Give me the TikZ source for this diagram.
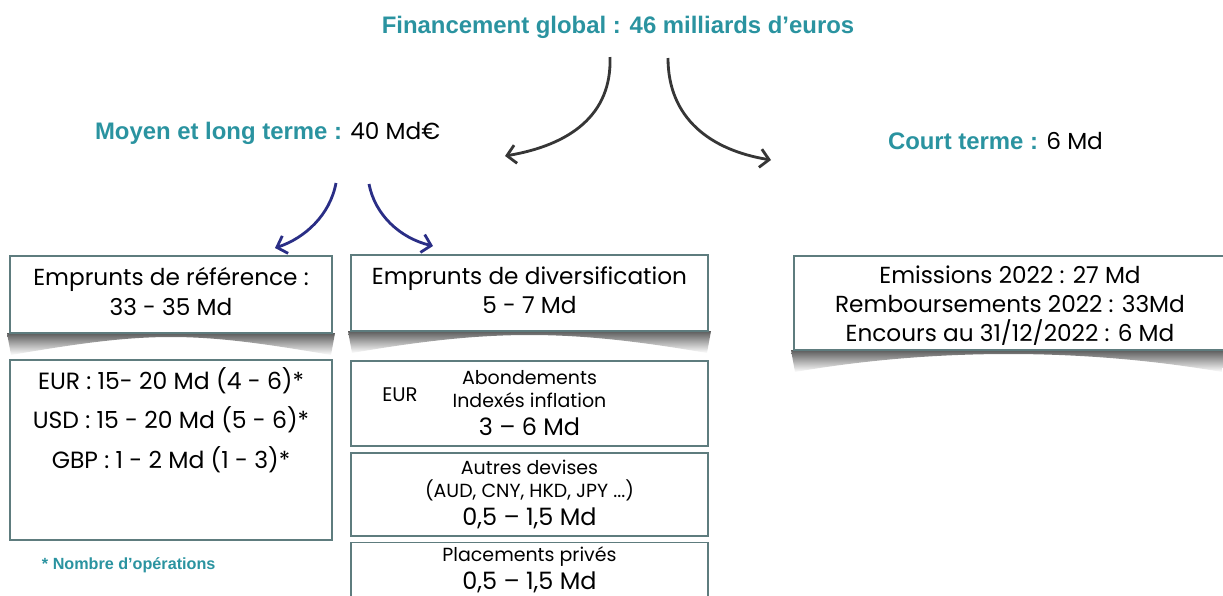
\documentclass[tikz,border=0pt]{standalone}
\usepackage{fontspec}
\setmainfont{Poppins}
\newfontfamily\titrefont{Liberation Sans}
\usetikzlibrary{arrows.meta}

\definecolor{bleucanard}{HTML}{2A93A0}
\definecolor{bordgris}{HTML}{5E7C7E}
\definecolor{bleufonce}{HTML}{2A2E86}
\definecolor{grisfleche}{HTML}{363636}

% ombre sous une boite : #1 gauche, #2 droite, #3 bas
\newcommand{\ombre}[3]{%
  \shade[top color=black!70, bottom color=white]
    (#1-3,#3) -- (#2+3,#3) -- (#2-1,#3+22)
    .. controls (#2-140,#3-2) and (#1+140,#3-2) .. (#1+1,#3+22) -- cycle;}
\newcommand{\petitfont}{\fontsize{13.5}{16.4}\selectfont}
\newcommand{\grandfont}{\fontsize{17}{16.4}\selectfont}

\begin{document}
\begin{tikzpicture}[%
    x=0.025cm, y=-0.025cm,
    every node/.style = {inner sep=0pt, outer sep=0pt},
    titre/.style = {font=\titrefont\bfseries\fontsize{17}{20}\selectfont, text=bleucanard},
    boite/.style = {draw=bordgris, line width=1.3pt, fill=white, align=center,
      font=\fontsize{16.5}{20.8}\selectfont},
    texte/.style = {align=center, font=\fontsize{16.5}{20.8}\selectfont},
    petit/.style = {font=\petitfont},
    fleche/.style = {line width=2pt, grisfleche, -{Straight Barb[length=2.2mm, width=4.6mm]}},
    flechebleue/.style = {line width=2pt, bleufonce, -{Straight Barb[length=2.2mm, width=4.6mm]}}%
  ]
  \clip (0,0) rectangle (1223,595);

  % titres
  \node[titre] (global) at (618,27) {Financement global : 46 milliards d’euros};
  \node[anchor=west, font=\fontsize{16.5}{20}\selectfont] (moyen) at (95,133)
    {\textcolor{bleucanard}{\titrefont\bfseries\fontsize{17}{20}\selectfont Moyen et long terme :} 40 Md€};
  \node[anchor=west, font=\fontsize{16.5}{20}\selectfont] (court) at (888,141)
    {\textcolor{bleucanard}{\titrefont\bfseries\fontsize{17}{20}\selectfont Court terme :} 6 Md};

  % fleches
  \coordinate (g1) at (610,57);
  \coordinate (g2) at (668,58);
  \coordinate (m1) at (505,156);
  \coordinate (c1) at (771,160);
  \draw[fleche] (g1) .. controls (612,115) and (570,145) .. (m1);
  \draw[fleche] (g2) .. controls (668,118) and (710,150) .. (c1);

  \coordinate (b1) at (336,183);
  \coordinate (b2) at (369,184);
  \coordinate (r1) at (275,248);
  \coordinate (d1) at (433,246);
  \draw[flechebleue] (b1) .. controls (330,215) and (305,238) .. (r1);
  \draw[flechebleue] (b2) .. controls (375,215) and (400,238) .. (d1);

  % ombres
  \ombre{10}{332}{333}
  \ombre{351}{708}{331}
  \ombre{794}{1223}{350}

  % boites du haut
  \node[boite, minimum width=8.05cm, minimum height=1.925cm] (reference) at (171,294.5) {};
  \node[texte] (referencetxt) at (171,291.5) {Emprunts de référence :\\33 - 35 Md};
  \node[boite, minimum width=8.925cm, minimum height=1.9cm] (diversif) at (529.5,293) {};
  \node[texte] (diversiftxt) at (529.5,290.5) {Emprunts de diversification\\5 - 7 Md};
  \node[boite, minimum width=10.8cm, minimum height=2.35cm] (courtterme) at (1010,303) {};
  \node[texte] (courttxt) at (1010,305.5)
    {Emissions 2022 : 27 Md\\Remboursements 2022 : 33Md\\Encours au 31/12/2022 : 6 Md};

  % detail emprunts de reference
  \node[boite, minimum width=8.05cm, minimum height=4.5cm] (devises) at (171,450) {};
  \node[align=center, font=\fontsize{16.7}{28.1}\selectfont] (devisestxt) at (171,420)
    {EUR : 15- 20 Md (4 - 6)*\\USD : 15 - 20 Md (5 - 6)*\\GBP : 1 - 2 Md (1 - 3)*};
  \node[anchor=west, font=\titrefont\bfseries\fontsize{11.5}{13}\selectfont, text=bleucanard]
    (nota) at (42,565) {* Nombre d’opérations};

  % detail emprunts de diversification
  \node[boite, minimum width=8.925cm, minimum height=2.125cm, font=\petitfont] (abond) at (529.5,403.5)
    {Abondements\\Indexés inflation\\[3.5pt]\grandfont 3 – 6 Md};
  \node[font=\fontsize{14}{16}\selectfont] (abondeur) at (400,395) {EUR};
  \node[boite, minimum width=8.925cm, minimum height=2.075cm, font=\petitfont] (autres) at (529.5,494.5)
    {Autres devises\\(AUD, CNY, HKD, JPY ...)\\[3.5pt]\grandfont 0,5 – 1,5 Md};
  \node[boite, minimum width=8.925cm, minimum height=1.35cm, font=\petitfont] (prives) at (529.5,569.5)
    {Placements privés\\[3.5pt]\grandfont 0,5 – 1,5 Md};

\end{tikzpicture}
\end{document}
